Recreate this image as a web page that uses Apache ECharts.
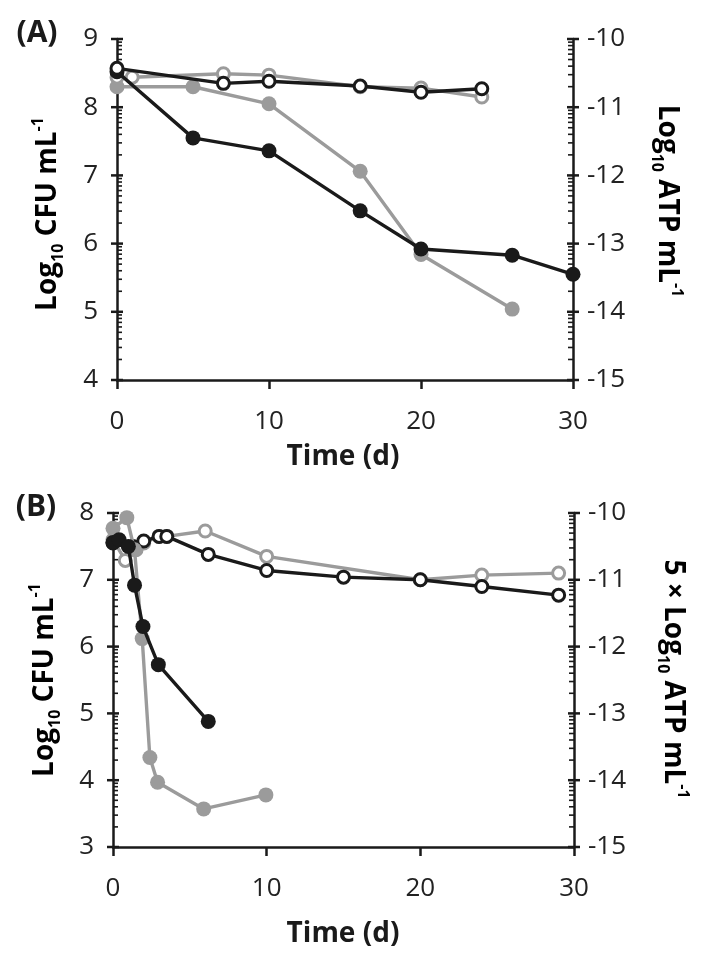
<!DOCTYPE html>
<html>
<head>
<meta charset="utf-8">
<script src="https://cdn.jsdelivr.net/npm/echarts@6/dist/echarts.min.js"></script>
<style>
html,body{margin:0;padding:0;background:#fff;}
#c{width:707px;height:971px;}
</style>
</head>
<body>
<div id="c"></div>
<script>
// ---------- Panel A data ----------
const timeA_cfuBlack = [0, 5, 10, 16, 20, 26, 30];
const cfuA_black     = [8.52, 7.55, 7.36, 6.48, 5.92, 5.83, 5.55];
const timeA_cfuGray  = [0, 5, 10, 16, 20, 26];
const cfuA_gray      = [8.30, 8.30, 8.05, 7.06, 5.84, 5.04];
const timeA_atpBlack = [0, 7, 10, 16, 20, 24];
const atpA_black     = [-10.43, -10.65, -10.62, -10.69, -10.78, -10.73];
const timeA_atpGray  = [0, 1, 7, 10, 16, 20, 24];
const atpA_gray      = [-10.56, -10.56, -10.51, -10.53, -10.70, -10.72, -10.85];

// ---------- Panel B data ----------
const timeB_cfuBlack = [0, 0.4, 1, 1.4, 1.95, 2.95, 6.2];
const cfuB_black     = [7.56, 7.60, 7.50, 6.92, 6.30, 5.73, 4.88];
const timeB_cfuGray  = [0, 0.9, 1.4, 1.9, 2.4, 2.9, 5.9, 9.95];
const cfuB_gray      = [7.77, 7.93, 7.45, 6.12, 4.34, 3.97, 3.57, 3.78];
const timeB_atpBlack = [0, 1.3, 2, 3, 3.5, 6.2, 10, 15, 20, 24, 29];
const atpB_black     = [-10.45, -10.50, -10.42, -10.35, -10.35, -10.62, -10.86, -10.96, -11.00, -11.10, -11.23];
const timeB_atpGray  = [0, 0.8, 1.5, 2, 3, 3.5, 6, 10, 20, 24, 29];
const atpB_gray      = [-10.40, -10.71, -10.55, -10.45, -10.35, -10.35, -10.27, -10.65, -11.00, -10.93, -10.90];

// ---------- axis tick labels / ranges ----------
const xTicks = [0, 10, 20, 30];
const yLeftA = [4, 9];
const yLeftB = [3, 8];
const yRight = [-15, -10];
// log-style minor tick fractions within each unit
const minorFrac = [0.301, 0.477, 0.602, 0.699, 0.778, 0.845, 0.903, 0.954];

const BLACK = '#1a1a1a';
const GRAY = '#9b9b9b';
const FONT = '"Open Sans", "DejaVu Sans", sans-serif';

function zip(a, b) { return a.map((v, i) => [v, b[i]]); }

function tickData(range, xPos, side) {
  const d = [];
  for (let v = range[0]; v <= range[1]; v++) {
    d.push([xPos, v, side, 1]);
    if (v < range[1]) minorFrac.forEach(f => d.push([xPos, v + f, side, 0]));
  }
  return d;
}

function tickSeries(xi, yi, range, xPos, side) {
  return {
    type: 'custom', xAxisIndex: xi, yAxisIndex: yi, silent: true, clip: false, z: 1,
    data: tickData(range, xPos, side),
    renderItem: function (params, api) {
      const p = api.coord([api.value(0), api.value(1)]);
      const s = api.value(2), major = api.value(3);
      let x1, x2;
      if (major) { x1 = p[0] - 6; x2 = p[0] + 6; }
      else { x1 = p[0]; x2 = p[0] + s * 5; }
      return { type: 'line', shape: { x1: x1, y1: p[1], x2: x2, y2: p[1] },
               style: { stroke: BLACK, lineWidth: major ? 2.5 : 1.6 } };
    }
  };
}

function filled(xi, yi, t, v, color, z) {
  return { type: 'line', xAxisIndex: xi, yAxisIndex: yi, data: zip(t, v), z: z,
    symbol: 'circle', symbolSize: 15, showSymbol: true,
    lineStyle: { color: color, width: 3.4 }, itemStyle: { color: color },
    emphasis: { disabled: true } };
}
function open(xi, yi, t, v, color, z) {
  return { type: 'line', xAxisIndex: xi, yAxisIndex: yi, data: zip(t, v), z: z,
    symbol: 'circle', symbolSize: 12, showSymbol: true,
    lineStyle: { color: color, width: 3.4 },
    itemStyle: { color: '#ffffff', borderColor: color, borderWidth: 3 },
    emphasis: { disabled: true } };
}

const axisLineStyle = { show: true, lineStyle: { color: BLACK, width: 2.5 } };
const labelStyle = { color: '#222', fontSize: 26, fontFamily: FONT };

function xAxis(gi) {
  return { type: 'value', gridIndex: gi, min: xTicks[0], max: xTicks[xTicks.length - 1], interval: 10,
    axisLine: Object.assign({ onZero: false }, axisLineStyle),
    axisTick: { show: true, inside: false, length: 9, lineStyle: { color: BLACK, width: 2.5 } },
    axisLabel: Object.assign({ margin: 29 }, labelStyle),
    splitLine: { show: false } };
}
function yAxis(gi, range, pos, margin) {
  return { type: 'value', gridIndex: gi, position: pos, min: range[0], max: range[1], interval: 1,
    axisLine: Object.assign({ onZero: false }, axisLineStyle),
    axisTick: { show: false },
    axisLabel: Object.assign({ margin: margin }, labelStyle),
    splitLine: { show: false } };
}

const titleRich = {
  b: { fontSize: 28, fontWeight: 'bold', fontFamily: FONT, color: '#1a1a1a', lineHeight: 36 },
  s: { fontSize: 16, fontWeight: 'bold', fontFamily: FONT, color: '#1a1a1a', lineHeight: 18, verticalAlign: 'bottom' },
  p: { fontSize: 16, fontWeight: 'bold', fontFamily: FONT, color: '#1a1a1a', lineHeight: 18, verticalAlign: 'top' }
};
function rotText(x, y, rot, text) {
  return { type: 'text', x: x, y: y, rotation: rot, silent: true,
    style: { text: text, rich: titleRich, align: 'center', verticalAlign: 'middle' } };
}
function plainText(x, y, text, size) {
  return { type: 'text', x: x, y: y, silent: true,
    style: { text: text, fontSize: size, fontWeight: 'bold', fontFamily: FONT, fill: '#1a1a1a',
             align: 'center', verticalAlign: 'middle' } };
}

const option = {
  animation: false,
  backgroundColor: '#ffffff',
  grid: [
    { left: 117, right: 134, top: 39, height: 341 },
    { left: 113, right: 133, top: 513, height: 334 }
  ],
  xAxis: [xAxis(0), xAxis(1)],
  yAxis: [
    yAxis(0, yLeftA, 'left', 19), yAxis(0, yRight, 'right', 14),
    yAxis(1, yLeftB, 'left', 19), yAxis(1, yRight, 'right', 14)
  ],
  series: [
    tickSeries(0, 0, yLeftA, 0, 1), tickSeries(0, 1, yRight, 30, -1),
    tickSeries(1, 2, yLeftB, 0, 1), tickSeries(1, 3, yRight, 30, -1),
    // Panel A
    filled(0, 0, timeA_cfuGray, cfuA_gray, GRAY, 3),
    open(0, 1, timeA_atpGray, atpA_gray, GRAY, 4),
    filled(0, 0, timeA_cfuBlack, cfuA_black, BLACK, 5),
    open(0, 1, timeA_atpBlack, atpA_black, BLACK, 6),
    // Panel B
    open(1, 3, timeB_atpGray, atpB_gray, GRAY, 3),
    open(1, 3, timeB_atpBlack, atpB_black, BLACK, 4),
    filled(1, 2, timeB_cfuGray, cfuB_gray, GRAY, 5),
    filled(1, 2, timeB_cfuBlack, cfuB_black, BLACK, 6)
  ],
  graphic: [
    plainText(37, 33, '(A)', 30),
    plainText(36, 507, '(B)', 30),
    plainText(343, 457, 'Time (d)', 28),
    plainText(343, 934, 'Time (d)', 28),
    rotText(48, 214, Math.PI / 2, '{b|Log}{s|10}{b| CFU mL}{p|-1}'),
    rotText(45, 680, Math.PI / 2, '{b|Log}{s|10}{b| CFU mL}{p|-1}'),
    rotText(667, 201, -Math.PI / 2, '{b|Log}{s|10}{b| ATP mL}{p|-1}'),
    rotText(673, 679, -Math.PI / 2, '{b|5 × Log}{s|10}{b| ATP mL}{p|-1}')
  ]
};

const chart = echarts.init(document.getElementById('c'), null, { renderer: 'canvas' });
chart.setOption(option);
</script>
</body>
</html>
